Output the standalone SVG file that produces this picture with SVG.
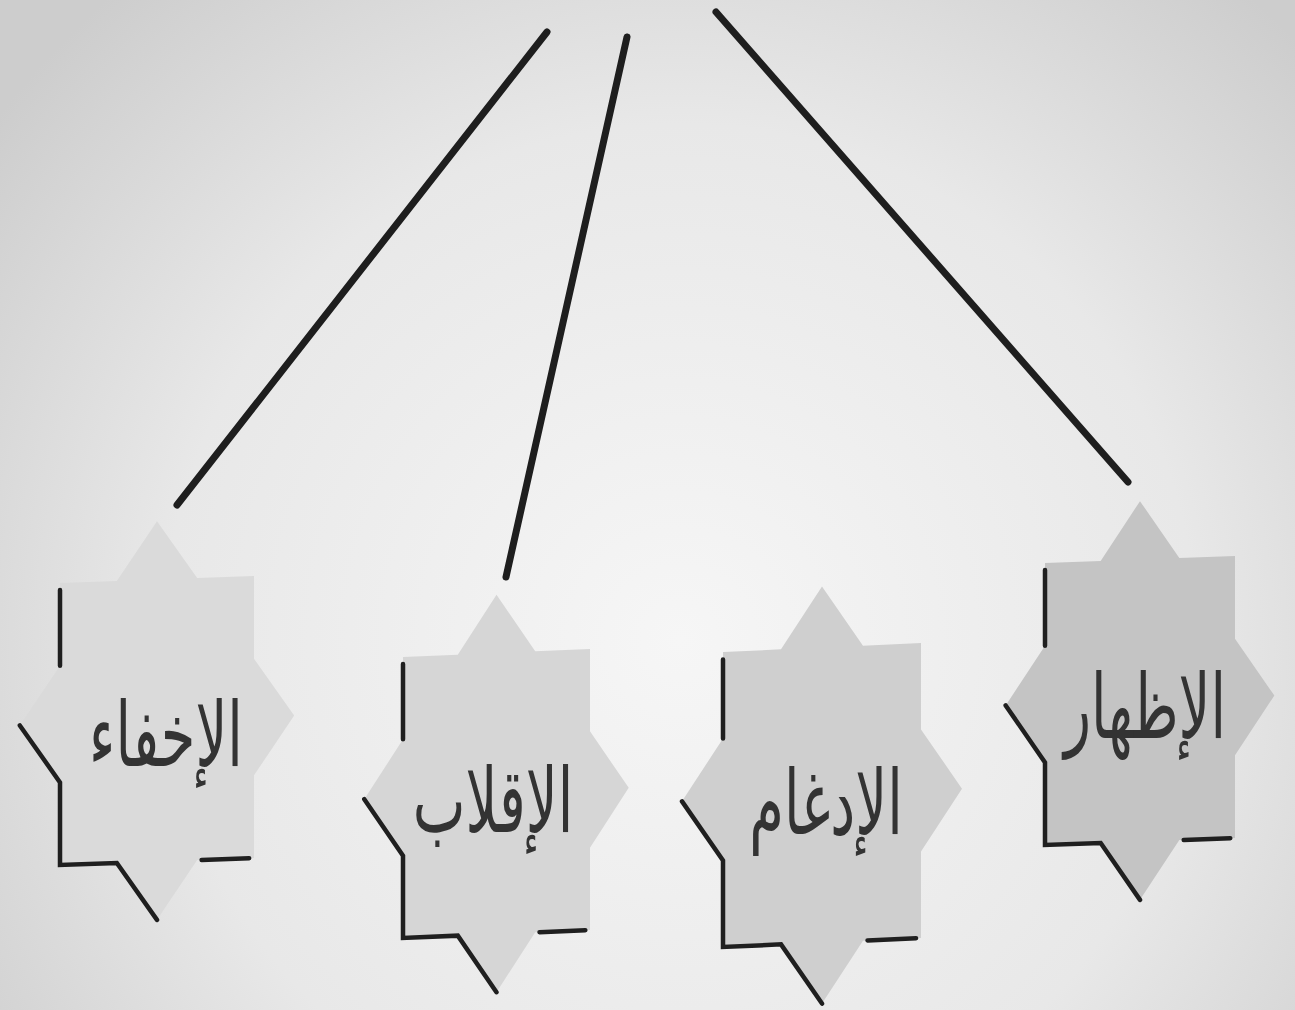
<svg xmlns="http://www.w3.org/2000/svg" width="1295" height="1010" viewBox="0 0 1295 1010">
  <defs>
    <radialGradient id="bg" cx="680" cy="640" r="860" gradientUnits="userSpaceOnUse">
      <stop offset="0" stop-color="#f6f6f6"/>
      <stop offset="0.6" stop-color="#e8e8e8"/>
      <stop offset="1" stop-color="#cdcdcd"/>
    </radialGradient>
    <style>
      .star { stroke: none; }
      .edge { fill: none; stroke: #1f1f1f; stroke-width: 4.5; stroke-linecap: round; stroke-linejoin: miter; vector-effect: non-scaling-stroke; }
      .conn { stroke: #1e1e1e; stroke-width: 7; stroke-linecap: round; fill: none; }
      .lbl { font-family: "DejaVu Sans", "Noto Sans", sans-serif; font-size: 56px; fill: #333333; text-anchor: middle; }
    </style>
  </defs>
  <rect x="0" y="0" width="1295" height="1010" fill="url(#bg)"/>

  <g id="connectors">
    <line class="conn" x1="547" y1="32" x2="177" y2="505"/>
    <line class="conn" x1="627" y1="37" x2="506" y2="577"/>
    <line class="conn" x1="716" y1="12" x2="1128" y2="482"/>
  </g>

  <g id="node-ikhfa">
    <g transform="matrix(97,-3.5,0,141,157,720.5)">
      <polygon class="star" fill="#dadada" points="0,-1.414 0.414,-1 1,-1 1,-0.414 1.414,0 1,0.414 1,1 0.414,1 0,1.414 -0.414,1 -1,1 -1,0.414 -1.414,0 -1,-0.414 -1,-1 -0.414,-1"/>
      <path class="edge" d="M-1,-0.95 L-1,-0.414 M-1.414,0 L-1,0.414 L-1,1 L-0.414,1 L0,1.414 M0.46,1 L0.95,1"/>
    </g>
    <text class="lbl" transform="translate(166,766) scale(1,1.6)">الإخفاء</text>
  </g>

  <g id="node-iqlab">
    <g transform="matrix(93.5,-4,0,140.5,496.5,793.5)">
      <polygon class="star" fill="#d6d6d6" points="0,-1.414 0.414,-1 1,-1 1,-0.414 1.414,0 1,0.414 1,1 0.414,1 0,1.414 -0.414,1 -1,1 -1,0.414 -1.414,0 -1,-0.414 -1,-1 -0.414,-1"/>
      <path class="edge" d="M-1,-0.95 L-1,-0.414 M-1.414,0 L-1,0.414 L-1,1 L-0.414,1 L0,1.414 M0.46,1 L0.95,1"/>
    </g>
    <text class="lbl" transform="translate(493,832) scale(1,1.6)">الإقلاب</text>
  </g>

  <g id="node-idgham">
    <g transform="matrix(99,-4.5,0,147.5,822,795)">
      <polygon class="star" fill="#cfcfcf" points="0,-1.414 0.414,-1 1,-1 1,-0.414 1.414,0 1,0.414 1,1 0.414,1 0,1.414 -0.414,1 -1,1 -1,0.414 -1.414,0 -1,-0.414 -1,-1 -0.414,-1"/>
      <path class="edge" d="M-1,-0.95 L-1,-0.414 M-1.414,0 L-1,0.414 L-1,1 L-0.414,1 L0,1.414 M0.46,1 L0.95,1"/>
    </g>
    <text class="lbl" transform="translate(826,834) scale(1,1.6)">الإدغام</text>
  </g>

  <g id="node-izhar">
    <g transform="matrix(95,-3.5,0,141,1140,700.5)">
      <polygon class="star" fill="#c4c4c4" points="0,-1.414 0.414,-1 1,-1 1,-0.414 1.414,0 1,0.414 1,1 0.414,1 0,1.414 -0.414,1 -1,1 -1,0.414 -1.414,0 -1,-0.414 -1,-1 -0.414,-1"/>
      <path class="edge" d="M-1,-0.95 L-1,-0.414 M-1.414,0 L-1,0.414 L-1,1 L-0.414,1 L0,1.414 M0.46,1 L0.95,1"/>
    </g>
    <text class="lbl" transform="translate(1145,738) scale(1,1.6)">الإظهار</text>
  </g>
</svg>
